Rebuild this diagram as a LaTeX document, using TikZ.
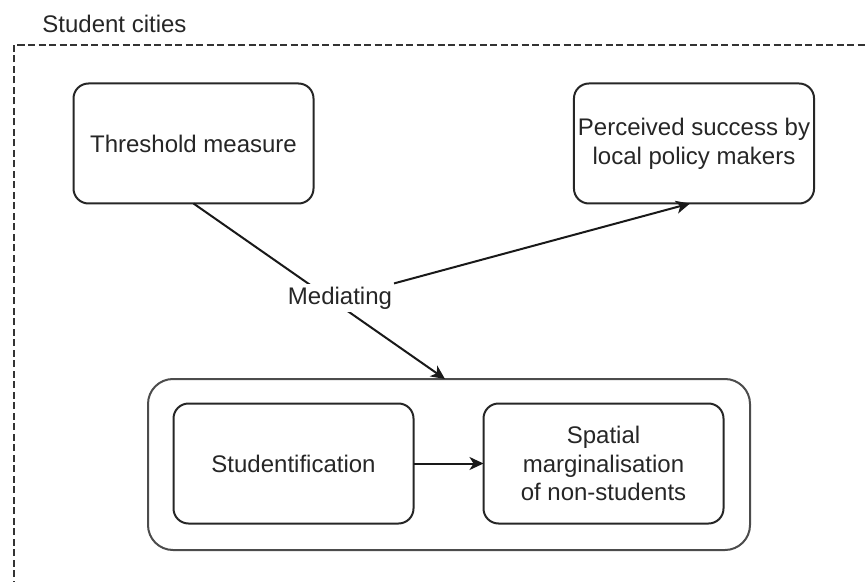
\documentclass[tikz,border=0pt]{standalone}
\usepackage{fontspec}
\setmainfont{Liberation Sans}
\usetikzlibrary{arrows.meta}
\begin{document}
\begin{tikzpicture}[x=0.5pt,y=-0.5pt,
  txt/.style={text=black!85, font=\fontsize{12}{14.4}\selectfont},
  box/.style={txt, draw=black!85, line width=1pt, rounded corners=7.5pt,
    minimum width=120pt, minimum height=60pt, inner sep=2pt, outer sep=0pt, align=center},
  groupbox/.style={draw=black!70, line width=1pt, rounded corners=12.5pt,
    minimum width=301pt, minimum height=85.5pt, inner sep=0pt, outer sep=0pt},
  frame/.style={draw=black!80, line width=0.6pt, dash pattern=on 3.5pt off 1.75pt},
  arr/.style={draw=black!90, line width=1pt, -{Stealth[length=7pt,width=6.5pt,inset=2pt]}},
  conn/.style={draw=black!90, line width=1pt}
]
\useasboundingbox (0,0) rectangle (865,582);

% container frame (extends beyond the picture)
\coordinate (fbl) at (14,640);
\coordinate (ftl) at (14,45);
\coordinate (ftr) at (900,45);
\draw[frame] (fbl) -- (ftl) -- (ftr);
\node[txt, anchor=west, inner sep=0pt] (title) at (42,24) {Student cities};

% boxes
\node[box] (thr) at (193.5,143.5) {Threshold measure};
\node[box] (per) at (694,143.5) {Perceived success by\\local policy makers};
\node[groupbox] (grp) at (449,464.5) {};
\node[box] (stu) at (293.5,463.5) {Studentification};
\node[box] (spa) at (603.5,463.5) {Spatial\\marginalisation\\of non-students};

% connectors
\draw[arr] (thr.south) -- ([xshift=-2pt]grp.north);
\node[txt, fill=white, inner sep=1.5pt] (med) at (340,298) {Mediating};
\draw[arr] (med) -- ([xshift=-2pt]per.south);
\draw[arr] (stu) -- (spa);
\end{tikzpicture}
\end{document}
